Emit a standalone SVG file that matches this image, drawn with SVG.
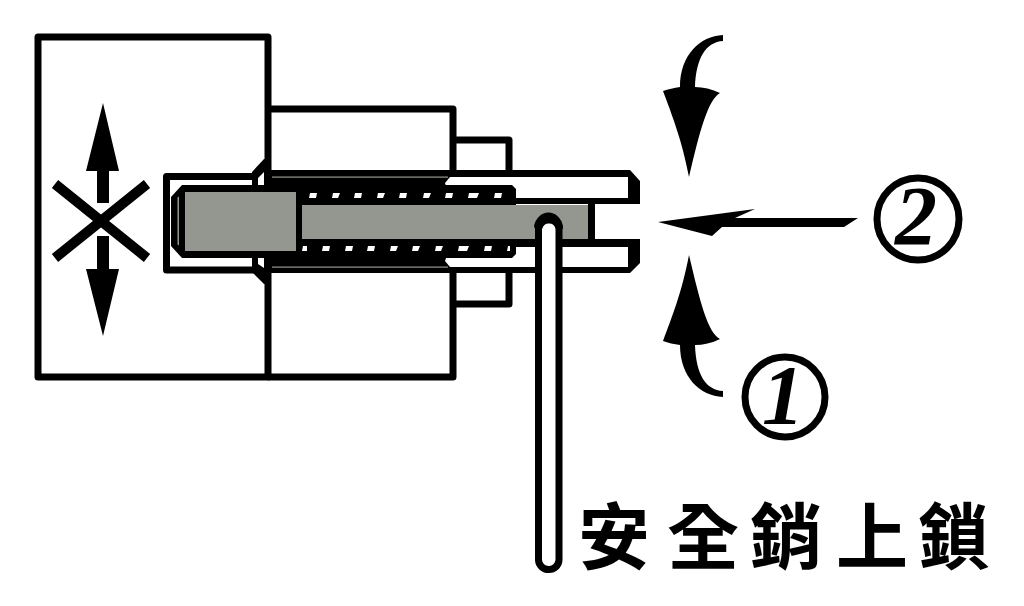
<svg xmlns="http://www.w3.org/2000/svg" width="1024" height="606" viewBox="0 0 1024 606">
<style>
.l{fill:none;stroke:#000;stroke-width:7;stroke-linejoin:round}
.w{fill:#fff;stroke:#000;stroke-width:7;stroke-linejoin:round}
.k{fill:#000}
.g{fill:#94978f}
.h{fill:#fff}
.t{fill:#94978f;stroke:none}
.n{font-family:"Liberation Serif",serif;font-style:italic;font-weight:700;font-size:84px;fill:#000;text-anchor:middle}
.c{fill:none;stroke:#000;stroke-width:7}
.cap{font-family:"Noto Sans CJK TC","Noto Sans CJK SC",sans-serif;font-weight:700;font-size:72px;fill:#000}
</style>
<rect width="1024" height="606" fill="#fff"/>
<g id="body">
<path class="l" d="M38 37H268V377H38Z"/>
<path class="l" d="M268 109H453V377H268"/>
<path class="l" d="M453 140H509V173M453 304H509V270"/>
</g>
<g id="sleeve">
<path class="k" d="M270 170H630L640 181V204H270Z"/>
<path class="k" d="M270 239H640V263L630 273H270Z"/>
<path class="h" d="M450 177H628V198H450L445 183Z"/>
<path class="h" d="M450 247H628V267H450L445 261Z"/>
<rect class="k" x="588" y="204" width="7" height="36"/>
<rect class="t" x="272" y="176.500" width="176" height="1.200"/>
<rect class="t" x="272" y="266.500" width="176" height="1.200"/>
</g>
<g id="cup">
<path class="l" d="M255 176.500H166.500V270H255"/>
<path class="k" d="M264 159H271V172H264L258 178H252V172Z"/>
<path class="k" d="M264 284H271V268H264L258 264H252V272Z"/>
<rect class="k" x="252" y="173" width="6" height="14"/>
<rect class="k" x="252" y="258" width="6" height="15"/>
<rect class="k" x="264" y="168" width="7" height="18"/>
<rect class="k" x="264" y="256" width="7" height="16"/>
</g>
<g id="bolt">
<path class="k" d="M182 185H512L516 189V254L512 258H182L171 246V197Z"/>
<path class="t" d="M177.500 197.500L179 196.500V245.500L177.500 244.500Z"/>
<rect class="g" x="185" y="192" width="111" height="59"/>
<rect class="g" x="302" y="205" width="286" height="34"/>
<path class="h" d="M310 193H317L316 198H309ZM333 193H340L338 198H332ZM355 193H362L361 198H354ZM378 193H385L383 198H377ZM400 193H407L406 198H399ZM424 193H431L429 198H423ZM446 193H453L452 198H445ZM469 193H479L477 198H468ZM495 193H502L501 198H494Z"/>
<path class="h" d="M303 246H307V251H302ZM323 246H330L329 251H322ZM346 246H353L352 251H345ZM368 246H375L374 251H367ZM391 246H398L396 251H390ZM413 246H420L418 251H412ZM436 246H443L441 251H435ZM459 246H469L467 251H458ZM485 246H492L491 251H484ZM508 246H510V251H507Z"/>
</g>
<g id="pin">
<path class="w" d="M538.500 228A10.500 10.500 0 0 1 559 228V560A10 10 0 0 1 548.700 569.500A10 10 0 0 1 538.500 560Z"/>
<path class="k" d="M534 226A15 18 0 0 1 563 226L563 229L556 229A7.500 9 0 0 0 542 229L535 229Z"/>
</g>
<g id="connectors">
<path class="k" d="M103 103L119 171H109V203H97V171H86Z"/>
<path class="k" d="M103 336L119 269H109V236H97V269H86Z"/>
<path d="M55 184L147 258M147 184L55 258" fill="none" stroke="#000" stroke-width="10"/>
<path class="k" d="M723 35V41C706 42 696 58 695 87C703 87 712 89 720 93C708 100 700 130 689 177C682 140 672 115 663 91C668 89 674 88 680 87C680 55 700 36 723 35Z"/>
<path class="k" d="M723 397V391C706 390 696 375 695 345C703 345 712 343 720 339C708 333 700 302 689 255C682 292 672 317 663 341C668 343 674 344 680 345C680 377 700 396 723 397Z"/>
<path class="k" d="M658 222L755 209L735 218H858L844 227H722L712 236Z"/>
</g>
<g id="label-2">
<circle class="c" cx="918" cy="219" r="41"/>
<text class="n" x="916" y="245">2</text>
</g>
<g id="label-1">
<circle class="c" cx="785" cy="397" r="40"/>
<text class="n" x="783" y="424">1</text>
</g>
<g id="caption">
<text class="cap" x="578 667 750 836 918" y="563">安全銷上鎖</text>
</g>
</svg>
